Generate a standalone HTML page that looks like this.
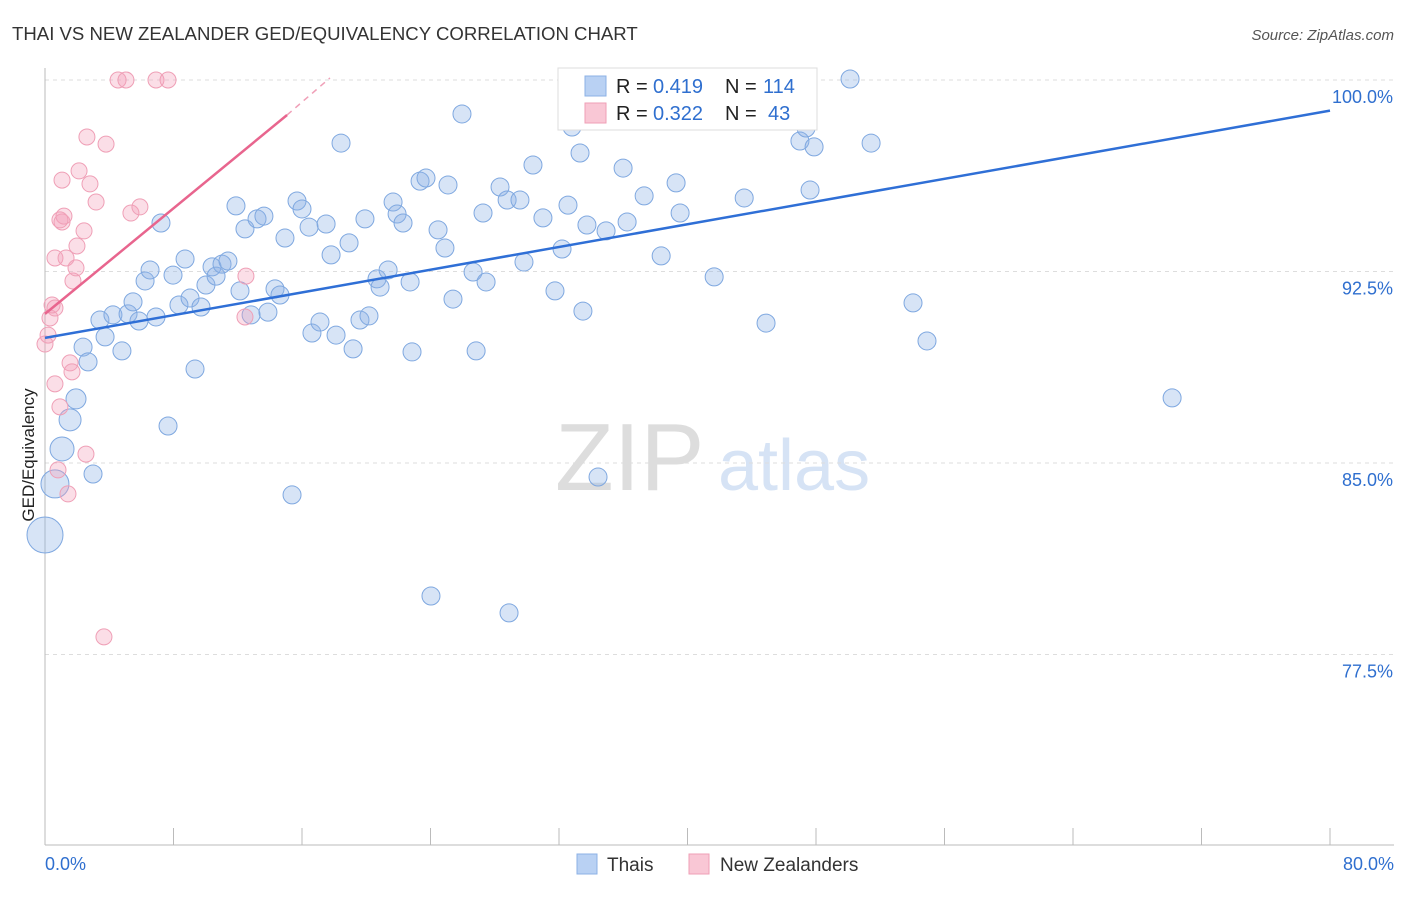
<!DOCTYPE html>
<html><head><meta charset="utf-8">
<style>
body{margin:0;background:#fff;font-family:"Liberation Sans",sans-serif;}
svg text{font-family:"Liberation Sans",sans-serif;}
</style></head>
<body>
<svg id="chart" width="1406" height="892" xmlns="http://www.w3.org/2000/svg">
<text x="12" y="40" font-size="18.6" fill="#333">THAI VS NEW ZEALANDER GED/EQUIVALENCY CORRELATION CHART</text>
<text x="1394" y="40" font-size="15" fill="#555" text-anchor="end" font-style="italic">Source: ZipAtlas.com</text>
<text transform="translate(34,455) rotate(-90)" font-size="17" fill="#222" text-anchor="middle">GED/Equivalency</text>
<g><text x="555" y="490" font-size="96" fill="#ddd" font-family="Liberation Serif,serif">ZIP</text><text x="718" y="490" font-size="72" fill="#d6e3f5">atlas</text></g>
<g id="grid"></g><g id="marks"></g>
<g>
<rect x="558" y="68" width="259" height="62" fill="#fff" stroke="#ddd"/>
<rect x="585" y="76" width="21" height="20" fill="#b9d1f3" stroke="#8cb1e6"/>
<rect x="585" y="103" width="21" height="20" fill="#f9c7d5" stroke="#ef9fb6"/>
<text x="616" y="93" font-size="20" fill="#222">R =</text><text x="653" y="93" font-size="20" fill="#2f6fcf">0.419</text>
<text x="725" y="93" font-size="20" fill="#222">N =</text><text x="763" y="93" font-size="20" fill="#2f6fcf">114</text>
<text x="616" y="120" font-size="20" fill="#222">R =</text><text x="653" y="120" font-size="20" fill="#2f6fcf">0.322</text>
<text x="725" y="120" font-size="20" fill="#222">N =</text><text x="768" y="120" font-size="20" fill="#2f6fcf">43</text>
</g>
<g>
<rect x="577" y="854" width="20" height="20" fill="#b9d1f3" stroke="#8cb1e6"/>
<text x="607" y="871" font-size="19" fill="#333">Thais</text>
<rect x="689" y="854" width="20" height="20" fill="#f9c7d5" stroke="#ef9fb6"/>
<text x="720" y="871" font-size="19" fill="#333">New Zealanders</text>
</g>
</svg>
<script>
const yTicks=[100,92.5,85,77.5];
const xTickLabels=["0.0%","80.0%"];
const blueX=[0,0.62,1.06,1.56,1.93,2.99,2.37,2.68,3.42,3.74,4.23,4.79,5.17,5.48,5.85,6.23,6.54,6.91,7.22,7.66,7.97,8.34,8.72,9.03,9.34,9.71,10.02,10.4,10.65,11.02,11.39,11.89,12.14,12.45,12.83,13.2,13.63,13.88,14.32,14.63,14.94,15.38,15.69,16.0,16.44,16.62,17.12,17.5,17.81,18.12,18.43,18.93,19.18,19.61,19.92,20.17,20.67,20.86,21.36,21.67,21.92,22.29,22.73,22.85,23.35,23.72,24.03,24.47,24.9,25.09,25.4,25.96,26.65,26.84,27.27,27.46,28.33,28.77,28.89,29.57,29.82,30.38,31.0,31.75,32.19,32.56,32.81,33.31,33.49,33.74,34.43,34.93,35.99,36.24,36.62,37.3,38.36,38.92,39.29,39.54,41.66,43.53,44.89,47.0,47.38,47.63,47.88,50.12,51.43,54.04,54.91,70.17];
const blueY=[82.18,84.18,85.55,86.69,87.51,84.57,89.54,88.96,90.6,89.94,90.8,89.39,90.84,91.31,90.56,92.13,92.56,90.72,94.4,86.45,92.36,91.19,92.99,91.46,88.68,91.11,91.97,92.68,92.32,92.79,92.91,95.07,91.74,94.17,90.8,94.56,94.67,90.91,91.82,91.58,93.81,83.75,95.26,94.95,94.24,90.09,90.52,94.36,93.15,90.01,97.53,93.62,89.47,90.6,94.56,90.76,92.21,91.89,92.56,95.22,94.75,94.4,92.09,89.35,96.04,96.16,79.79,94.13,93.42,95.89,91.42,98.67,92.48,89.39,94.79,92.09,95.81,95.3,79.13,95.3,92.87,96.67,94.6,91.74,93.38,95.1,98.16,97.14,90.95,94.32,84.45,94.09,96.55,94.44,98.43,95.46,93.11,99.02,95.97,94.79,92.29,95.38,90.48,97.61,98.12,95.69,97.38,100.04,97.53,91.27,89.78,87.55];
const blueR=[18,14,12,11,10];
const pinkX=[0,0.19,0.31,0.44,0.62,0.62,0.62,0.81,0.93,1.06,1.06,1.18,1.31,1.43,1.56,1.68,1.74,1.93,1.99,2.12,2.43,2.55,2.61,2.8,3.18,3.67,3.8,4.55,5.04,5.35,5.91,6.91,7.66,12.45,12.51,0.93];
const pinkY=[89.66,90.01,90.68,91.19,88.1,91.07,93.03,84.73,87.2,96.08,94.44,94.67,93.03,83.79,88.92,88.57,92.13,92.64,93.5,96.44,94.09,85.35,97.77,95.93,95.22,78.19,97.49,100,100,94.79,95.03,100,100,90.72,92.32,94.52];
const blueLine=[[0,89.9],[80,98.8]];
const pinkLine=[[0,90.84],[15.07,98.63]];
const pinkDash=[[15.07,98.63],[17.74,100.08]];
const X=v=>45+v/80*1285, Y=v=>80+(100-v)/7.5*191.5;
const NS="http://www.w3.org/2000/svg";
const grid=document.getElementById('grid'), marks=document.getElementById('marks');
function mk(tag,attrs,parent){const e=document.createElementNS(NS,tag);for(const k in attrs)e.setAttribute(k,attrs[k]);parent.appendChild(e);return e;}
yTicks.forEach(t=>{
 const l=mk('line',{x1:45,x2:1394,y1:Y(t),y2:Y(t),stroke:'#ddd','stroke-dasharray':'4,4'},grid);
 
 
 const tx=mk('text',{x:1393,y:Y(t)+23,'font-size':18,fill:'#2f6fcf','text-anchor':'end'},grid);
 tx.textContent=t.toFixed(1)+'%';
 
 
});
const ax=mk('line',{x1:45,x2:1394,y1:845,y2:845,stroke:'#bbb'},grid);


const ay=mk('line',{x1:45,x2:45,y1:68,y2:845,stroke:'#bbb'},grid);


for(let i=0;i<=10;i++){const t=mk('line',{x1:X(i*8),x2:X(i*8),y1:828,y2:845,stroke:'#bbb'},grid);
 
 }
[[0,'start',X(0)],[80,'end',1394]].forEach((d,i)=>{const t=mk('text',{x:d[2],y:870,'font-size':18,fill:'#2f6fcf','text-anchor':d[1]},grid);t.textContent=xTickLabels[i];
 
 });
blueX.forEach((v,i)=>{const c=mk('circle',{cx:X(v),cy:Y(blueY[i]),r:blueR[i]||9,fill:'rgba(140,177,230,0.35)',stroke:'#7fa8e0','stroke-width':1},marks);
 
 });
pinkX.forEach((v,i)=>{const c=mk('circle',{cx:X(v),cy:Y(pinkY[i]),r:8,fill:'rgba(244,160,185,0.35)',stroke:'#ef9fb6','stroke-width':1},marks);
 
 });
const bl=mk('line',{x1:X(blueLine[0][0]),y1:Y(blueLine[0][1]),x2:X(blueLine[1][0]),y2:Y(blueLine[1][1]),stroke:'#2f6fd6','stroke-width':2.5},marks);


const pl=mk('line',{x1:X(pinkLine[0][0]),y1:Y(pinkLine[0][1]),x2:X(pinkLine[1][0]),y2:Y(pinkLine[1][1]),stroke:'#e8658e','stroke-width':2.5},marks);


const pd=mk('line',{x1:X(pinkDash[0][0]),y1:Y(pinkDash[0][1]),x2:X(pinkDash[1][0]),y2:Y(pinkDash[1][1]),stroke:'#f0a0b8','stroke-width':1.5,'stroke-dasharray':'6,5'},marks);


</script>
</body></html>
